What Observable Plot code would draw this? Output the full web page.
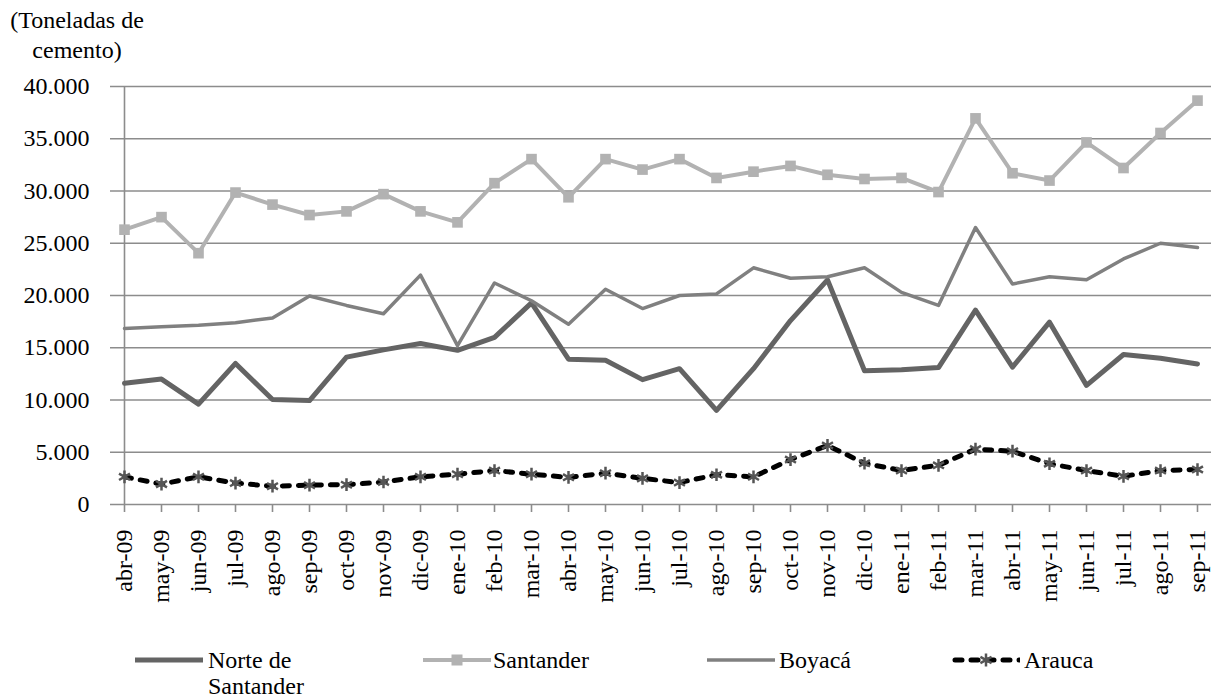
<!DOCTYPE html>
<html lang="es"><head><meta charset="utf-8">
<script src="https://cdn.jsdelivr.net/npm/d3@7"></script>
<script src="https://cdn.jsdelivr.net/npm/@observablehq/plot@0.6"></script>
</head><body style="margin:0">
<div id="ylab" style="position:absolute;left:3px;top:5px;width:148px;text-align:center;font-size:24px;line-height:30px;color:#000;font-family:'Liberation Serif'">(Toneladas de<br>cemento)</div>
<div id="chart" style="position:absolute;left:0;top:0"></div>
<div id="legend"></div>
<script>
const months = ["abr-09","may-09","jun-09","jul-09","ago-09","sep-09","oct-09","nov-09","dic-09",
  "ene-10","feb-10","mar-10","abr-10","may-10","jun-10","jul-10","ago-10","sep-10","oct-10","nov-10","dic-10",
  "ene-11","feb-11","mar-11","abr-11","may-11","jun-11","jul-11","ago-11","sep-11"];
const norteSantander = [11600,12000,9600,13500,10050,9950,14100,14800,15400,
  14750,16000,19300,13900,13800,11950,13000,9000,13000,17600,21500,12800,
  12900,13100,18600,13150,17450,11400,14350,14000,13450];
const santander = [26300,27500,24050,29850,28700,27700,28050,29700,28050,
  27000,30750,33050,29400,33050,32050,33050,31250,31850,32400,31550,31150,
  31250,29900,36950,31700,31000,34650,32200,35550,38650];
const boyaca = [16850,17000,17150,17400,17850,19950,19050,18250,21950,
  15200,21200,19500,17250,20600,18750,20000,20150,22650,21650,21800,22650,
  20300,19050,26500,21100,21800,21500,23500,25000,24600];
const arauca = [2650,1950,2650,2050,1750,1850,1900,2150,2650,
  2900,3250,2900,2600,3000,2500,2100,2850,2650,4300,5650,3950,
  3250,3750,5300,5100,3900,3250,2700,3250,3350];
const seriesNames = ["Norte de Santander","Santander","Boyac\u00e1","Arauca"];
const yTicks = [0,5000,10000,15000,20000,25000,30000,35000,40000];

const seriesVals = [norteSantander, santander, boyaca, arauca];
const data = [];
seriesNames.forEach((name, s) => seriesVals[s].forEach((v, i) => data.push({mes: months[i], serie: name, valor: v})));
const of = name => data.filter(d => d.serie === name);
const fmt = d => d3.format(",")(d).replace(/,/g, ".");
const grid = "#8c8c8c";
const FONT = "Liberation Serif";

const plot = Plot.plot({
  width: 1224, height: 640,
  marginTop: 86, marginBottom: 136, marginLeft: 110, marginRight: 13,
  style: {fontFamily: FONT, fontSize: "24px", color: "#000", background: "transparent", overflow: "visible"},
  x: {type: "point", domain: months, padding: 0, label: null},
  y: {domain: [0, 40000], label: null},
  marks: [
    Plot.ruleY(yTicks, {stroke: grid, strokeWidth: 1.6}),
    Plot.ruleX([months[0]], {stroke: grid, strokeWidth: 1.6}),
    Plot.axisY(yTicks, {tickSize: 0, tickPadding: 21, tickFormat: fmt, fontSize: 24, label: null}),
    Plot.axisX({tickRotate: -90, tickSize: 8, tickPadding: 17, stroke: grid, strokeWidth: 1.6, fontSize: 24, label: null}),
    Plot.lineY(of(seriesNames[0]), {x: "mes", y: "valor", stroke: "#646464", strokeWidth: 5, strokeLinejoin: "round"}),
    Plot.lineY(of(seriesNames[1]), {x: "mes", y: "valor", stroke: "#b2b2b2", strokeWidth: 4, strokeLinejoin: "round"}),
    Plot.dot(of(seriesNames[1]), {x: "mes", y: "valor", symbol: "square", r: 6, fill: "#b2b2b2"}),
    Plot.lineY(of(seriesNames[2]), {x: "mes", y: "valor", stroke: "#808080", strokeWidth: 3.5, strokeLinejoin: "round"}),
    Plot.lineY(of(seriesNames[3]), {x: "mes", y: "valor", stroke: "#000", strokeWidth: 5, strokeDasharray: "7,9", strokeLinecap: "round", strokeLinejoin: "round"}),
    Plot.dot(of(seriesNames[3]), {x: "mes", y: "valor", symbol: "asterisk", r: 6, stroke: "#555", strokeWidth: 2.5})
  ]
});
document.getElementById("chart").appendChild(plot);

// Legend
const legend = document.getElementById("legend");
const items = [
  {name: "Norte de<br>Santander", x: 135, tx: 208, kind: "norte"},
  {name: "Santander", x: 423, tx: 493, kind: "santander"},
  {name: "Boyac\u00e1", x: 707, tx: 779, kind: "boyaca"},
  {name: "Arauca", x: 952, tx: 1024, kind: "arauca"}
];
items.forEach(it => {
  const w = 68, h = 20;
  let inner = "";
  if (it.kind === "norte") inner = `<line x1="0" y1="10" x2="${w}" y2="10" stroke="#646464" stroke-width="5"/>`;
  if (it.kind === "santander") inner = `<line x1="0" y1="10" x2="${w}" y2="10" stroke="#b2b2b2" stroke-width="4"/><rect x="${w/2-5.5}" y="4.5" width="11" height="11" fill="#b2b2b2"/>`;
  if (it.kind === "boyaca") inner = `<line x1="0" y1="10" x2="${w}" y2="10" stroke="#808080" stroke-width="3.5"/>`;
  if (it.kind === "arauca") inner = `<line x1="3" y1="10" x2="${w}" y2="10" stroke="#000" stroke-width="5" stroke-dasharray="7,9" stroke-linecap="round"/>` +
    `<g stroke="#555" stroke-width="2.5" transform="translate(${w/2},10)"><line x1="0" y1="-6.5" x2="0" y2="6.5"/><line x1="-5.6" y1="-3.2" x2="5.6" y2="3.2"/><line x1="-5.6" y1="3.2" x2="5.6" y2="-3.2"/></g>`;
  const sw = document.createElement("div");
  sw.style.cssText = `position:absolute;left:${it.x}px;top:650px;`;
  sw.innerHTML = `<svg width="${w}" height="${h}">${inner}</svg>`;
  legend.appendChild(sw);
  const t = document.createElement("div");
  t.style.cssText = `position:absolute;left:${it.tx}px;top:647px;font-size:24px;line-height:26px;color:#000;white-space:nowrap;font-family:'Liberation Serif';`;
  t.innerHTML = it.name;
  legend.appendChild(t);
});
</script>
</body></html>
